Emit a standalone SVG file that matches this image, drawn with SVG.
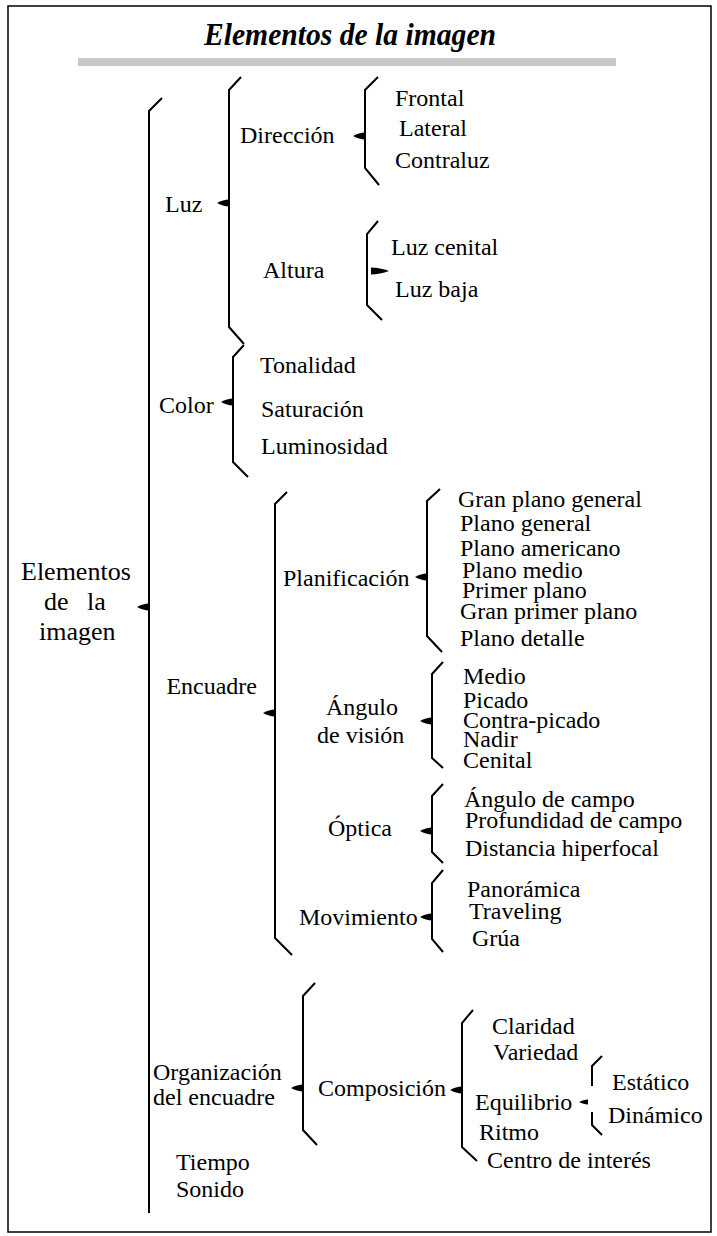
<svg xmlns="http://www.w3.org/2000/svg" width="717" height="1236" viewBox="0 0 717 1236">
<style>
.t{font-family:"Liberation Serif","Times New Roman",serif;font-size:24px;fill:#000}
.big{font-size:26px}
.title{font-family:"Liberation Serif","Times New Roman",serif;font-size:32px;font-weight:bold;font-style:italic;fill:#000}
.br{fill:none;stroke:#000;stroke-width:2;stroke-linejoin:miter}
.frame{fill:none;stroke:#000;stroke-width:1.5}
</style>
<defs>
<path id="nubL" d="M0,-3.5 C-4,-3.5 -8,-2 -12,0 C-8,2 -4,3.5 0,3.5 Z" fill="#000"/>
<path id="nubR" d="M0,-3.5 C6,-3.5 12,-2 18,0 C12,2 6,3.5 0,3.5 Z" fill="#000"/>
</defs>
<rect class="frame" x="8" y="6" width="703" height="1226"/>
<g id="title">
<text class="title" x="350" y="45" text-anchor="middle" textLength="292" lengthAdjust="spacingAndGlyphs">Elementos de la imagen</text>
<rect x="78" y="58" width="538" height="8" fill="#c8c8c8"/>
</g>
<g id="connectors">
<polyline class="br" points="162,98 149,111 149,1213"/>
<use href="#nubL" x="149" y="607"/>
<polyline class="br" points="241,77 229,90 229,327 244,344"/>
<use href="#nubL" x="229" y="203"/>
<polyline class="br" points="378,77 365,90 365,168 379,185"/>
<use href="#nubL" x="365" y="136"/>
<polyline class="br" points="378,221 367,234 367,305 382,320"/>
<use href="#nubR" x="371" y="271"/>
<polyline class="br" points="244,345 233,357 233,462 248,477"/>
<use href="#nubL" x="233" y="402"/>
<polyline class="br" points="287,492 275,504 275,938 292,955"/>
<use href="#nubL" x="275" y="713"/>
<polyline class="br" points="440,489 427,501 427,636 442,652"/>
<use href="#nubL" x="427" y="577"/>
<polyline class="br" points="443,662 432,674 432,758 443,768"/>
<use href="#nubL" x="432" y="721"/>
<polyline class="br" points="443,784 432,796 432,852 443,863"/>
<use href="#nubL" x="432" y="831"/>
<polyline class="br" points="443,870 432,883 432,939 443,952"/>
<use href="#nubL" x="432" y="917"/>
<polyline class="br" points="315,983 303,996 303,1130 317,1145"/>
<use href="#nubL" x="303" y="1088"/>
<polyline class="br" points="473,1010 462,1023 462,1147 477,1161"/>
<use href="#nubL" x="462" y="1090"/>
<polyline class="br" points="602,1056 592,1066 592,1086"/>
<polyline class="br" points="592,1112 592,1125 602,1135"/>
<path d="M588,-2.5 C585,-2.5 582,-1.5 579,0 C582,1.5 585,2.5 588,2.5 Z" transform="translate(0,1102)" fill="#000"/>
</g>
<g id="root"><text class="t big" x="21" y="580">Elementos</text><text class="t big" y="610"><tspan x="44">de</tspan><tspan x="87">la</tspan></text><text class="t big" x="39" y="640">imagen</text></g>
<g id="luz"><text class="t" x="165" y="212">Luz</text></g>
<g id="direccion"><text class="t" x="240" y="143">Dirección</text></g>
<g id="frontal"><text class="t" x="395" y="106">Frontal</text></g>
<g id="lateral"><text class="t" x="399" y="136">Lateral</text></g>
<g id="contraluz"><text class="t" x="395" y="168">Contraluz</text></g>
<g id="altura"><text class="t" x="263" y="278">Altura</text></g>
<g id="luzcenital"><text class="t" x="391" y="255">Luz cenital</text></g>
<g id="luzbaja"><text class="t" x="395" y="297">Luz baja</text></g>
<g id="color"><text class="t" x="159" y="413">Color</text></g>
<g id="tonalidad"><text class="t" x="260" y="373">Tonalidad</text></g>
<g id="saturacion"><text class="t" x="261" y="417">Saturación</text></g>
<g id="luminosidad"><text class="t" x="261" y="454">Luminosidad</text></g>
<g id="encuadre"><text class="t" x="257" y="694" text-anchor="end">Encuadre</text></g>
<g id="planificacion"><text class="t" x="283" y="586">Planificación</text></g>
<g id="gpg"><text class="t" x="458" y="507">Gran plano general</text></g>
<g id="pg"><text class="t" x="460" y="531">Plano general</text></g>
<g id="pa"><text class="t" x="460" y="556">Plano americano</text></g>
<g id="pm"><text class="t" x="462" y="578">Plano medio</text></g>
<g id="pp"><text class="t" x="462" y="598">Primer plano</text></g>
<g id="gpp"><text class="t" x="460" y="619">Gran primer plano</text></g>
<g id="pd"><text class="t" x="460" y="646">Plano detalle</text></g>
<g id="angulo"><text class="t" x="326" y="715">Ángulo</text><text class="t" x="317" y="743">de visión</text></g>
<g id="medio"><text class="t" x="463" y="684">Medio</text></g>
<g id="picado"><text class="t" x="463" y="708">Picado</text></g>
<g id="contrapicado"><text class="t" x="463" y="728">Contra-picado</text></g>
<g id="nadir"><text class="t" x="463" y="747">Nadir</text></g>
<g id="cenital"><text class="t" x="463" y="768">Cenital</text></g>
<g id="optica"><text class="t" x="328" y="836">Óptica</text></g>
<g id="adc"><text class="t" x="464" y="807">Ángulo de campo</text></g>
<g id="pdc"><text class="t" x="465" y="828">Profundidad de campo</text></g>
<g id="dh"><text class="t" x="465" y="856">Distancia hiperfocal</text></g>
<g id="movimiento"><text class="t" x="299" y="925">Movimiento</text></g>
<g id="panoramica"><text class="t" x="467" y="897">Panorámica</text></g>
<g id="traveling"><text class="t" x="469" y="919">Traveling</text></g>
<g id="grua"><text class="t" x="472" y="946">Grúa</text></g>
<g id="organizacion"><text class="t" x="153" y="1080">Organización</text><text class="t" x="153" y="1105">del encuadre</text></g>
<g id="composicion"><text class="t" x="318" y="1096">Composición</text></g>
<g id="claridad"><text class="t" x="492" y="1034">Claridad</text></g>
<g id="variedad"><text class="t" x="493" y="1060">Variedad</text></g>
<g id="equilibrio"><text class="t" x="475" y="1110">Equilibrio</text></g>
<g id="estatico"><text class="t" x="612" y="1090">Estático</text></g>
<g id="dinamico"><text class="t" x="608" y="1123">Dinámico</text></g>
<g id="ritmo"><text class="t" x="479" y="1140">Ritmo</text></g>
<g id="centro"><text class="t" x="487" y="1168">Centro de interés</text></g>
<g id="tiempo"><text class="t" x="176" y="1170">Tiempo</text></g>
<g id="sonido"><text class="t" x="176" y="1197">Sonido</text></g>
</svg>
